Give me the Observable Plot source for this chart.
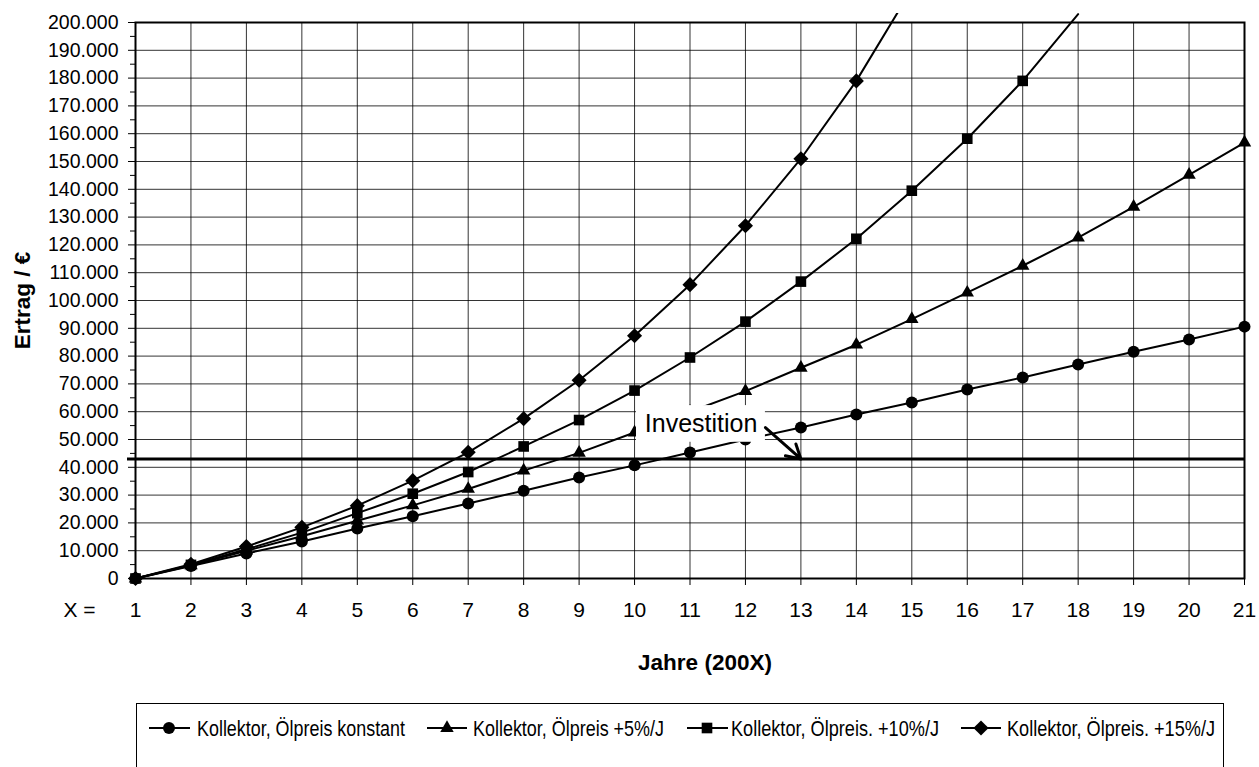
<!DOCTYPE html>
<html><head><meta charset="utf-8">
<script src="https://cdn.jsdelivr.net/npm/d3@7"></script>
<script src="https://cdn.jsdelivr.net/npm/@observablehq/plot@0.6"></script>
<style>
html,body{margin:0;padding:0;background:#fff;overflow:hidden;}
#wrap{position:relative;width:1259px;height:767px;overflow:hidden;}
#chart{position:absolute;left:0;top:0;}
#chart svg{overflow:hidden;}
#topmask{position:absolute;left:0;top:0;width:1259px;height:13px;background:#fff;}
#legend{position:absolute;left:0;top:0;}
</style></head><body>
<div id="wrap"><div id="chart"></div><div id="topmask"></div><svg id="legend" width="1259" height="767"></svg></div>
<script>
// ---- data ----
const years = [1,2,3,4,5,6,7,8,9,10,11,12,13,14,15,16,17,18,19,20,21];
const seriesNames = ["Kollektor, Ölpreis konstant", "Kollektor, Ölpreis +5%/J", "Kollektor, Ölpreis. +10%/J", "Kollektor, Ölpreis. +15%/J"];
const konstant = [0, 4500, 9000, 13300, 18000, 22400, 27000, 31600, 36300, 40700, 45300, 50000, 54300, 59000, 63300, 68000, 72300, 77000, 81600, 86000, 90600];
const plus5    = [0, 4700, 10000, 15200, 20800, 26300, 32200, 38800, 45200, 52500, 60000, 67400, 75800, 84100, 93300, 102800, 112500, 122600, 133700, 145200, 156800];
const plus10   = [0, 4900, 10500, 16500, 23500, 30500, 38300, 47500, 57000, 67600, 79500, 92400, 106800, 122200, 139500, 158200, 179000, 203000];
const plus15   = [0, 5100, 11500, 18400, 26200, 35200, 45400, 57500, 71300, 87300, 105700, 126900, 151000, 179000, 212000];
const seriesValues = [konstant, plus5, plus10, plus15];
const symbols = ["circle", "triangle", "square", "diamond2"];
const symbolR = [6, 5, 6, 6.8];
const yMajorTicks = [0,10000,20000,30000,40000,50000,60000,70000,80000,90000,100000,110000,120000,130000,140000,150000,160000,170000,180000,190000,200000];
const yMinorTicks = [5000,15000,25000,35000,45000,55000,65000,75000,85000,95000,105000,115000,125000,135000,145000,155000,165000,175000,185000,195000];
const yMax = 200000;
const investition = 43000;
const annotation = [{label: "Investition", x: 11.2, y: 55600, x1: 10.035, x2: 12.36, y1: 49000, y2: 62200}];
const arrowSpec = [{x1: 12.36, y1: 54300, x2: 13, y2: investition}];

// ---- table ----
const rows = [];
seriesValues.forEach((vals, i) => vals.forEach((v, j) => rows.push({series: seriesNames[i], year: years[j], value: v})));

const fmt = d3.formatLocale({decimal: ",", thousands: ".", grouping: [3], currency: ["", " €"]}).format(",");

const marks = [
  Plot.gridY(yMajorTicks, {stroke: "#000", strokeOpacity: 0.8, strokeWidth: 1}),
  Plot.gridX(years, {stroke: "#000", strokeOpacity: 0.8, strokeWidth: 1}),
  Plot.line(rows, {x: "year", y: "value", z: "series", stroke: "black", strokeWidth: 2})
];
seriesNames.forEach((name, i) => {
  marks.push(Plot.dot(rows.filter(d => d.series === name && d.value <= yMax),
    {x: "year", y: "value", symbol: () => symbols[i], r: symbolR[i], fill: "black", stroke: "none"}));
});
marks.push(
  Plot.ruleY([investition], {stroke: "black", strokeWidth: 3, insetLeft: -8}),
  Plot.rect(annotation, {x1: "x1", x2: "x2", y1: "y1", y2: "y2", fill: "white"}),
  Plot.text(annotation, {x: "x", y: "y", text: "label", fontSize: 25, lineAnchor: "middle", fill: "black"}),
  Plot.arrow(arrowSpec, {x1: "x1", y1: "y1", x2: "x2", y2: "y2", stroke: "black", strokeWidth: 3, headLength: 13}),
  Plot.axisY(yMinorTicks, {tickSize: 5, tickFormat: () => "", label: null}),
  Plot.axisY(yMajorTicks, {tickSize: 7, tickPadding: 10, tickFormat: fmt, fontSize: 19.5, label: null}),
  Plot.axisX(years, {tickSize: 7, tickPadding: 17, fontSize: 21, label: null, tickFormat: d => String(d)}),
  Plot.frame({stroke: "black", strokeWidth: 2}),
  Plot.text(["X ="], {text: d => d, frameAnchor: "bottom-left", dx: -40, dy: 32, textAnchor: "end", lineAnchor: "middle", fontSize: 21}),
  Plot.text(["Ertrag / €"], {text: d => d, frameAnchor: "left", dx: -113, rotate: -90, textAnchor: "middle", fontWeight: "bold", fontSize: 22.5, lineAnchor: "middle"}),
  Plot.text(["Jahre (200X)"], {text: d => d, frameAnchor: "bottom", dx: 15, dy: 84, textAnchor: "middle", fontWeight: "bold", fontSize: 22.5, lineAnchor: "middle"})
);

const chart = Plot.plot({
  width: 1259, height: 693,
  marginLeft: 135, marginRight: 15, marginTop: 22, marginBottom: 115,
  x: {domain: [1, 21], label: null},
  y: {domain: [0, yMax], label: null},
  style: {fontFamily: "'Liberation Sans', Arial, sans-serif", color: "black", background: "white", overflow: "hidden"},
  marks
});
document.getElementById("chart").appendChild(chart);

// ---- legend (below the plot) ----
const lg = d3.select("#legend");
lg.append("rect").attr("x", 136.5).attr("y", 703.5).attr("width", 1087).attr("height", 100)
  .attr("fill", "white").attr("stroke", "black").attr("stroke-width", 1);
const d3sym = {circle: d3.symbolCircle, triangle: d3.symbolTriangle, square: d3.symbolSquare, diamond2: d3.symbolDiamond2};
const legendPos = [
  {l1: 149, l2: 190, m: 169, t: 197, tw: 208},
  {l1: 427, l2: 467, m: 447, t: 473, tw: 191},
  {l1: 687, l2: 728, m: 707, t: 731, tw: 208},
  {l1: 961, l2: 1001, m: 981, t: 1007, tw: 208}
];
const ly = 728;
seriesNames.forEach((name, i) => {
  const p = legendPos[i];
  lg.append("line").attr("x1", p.l1).attr("x2", p.l2).attr("y1", ly).attr("y2", ly).attr("stroke", "black").attr("stroke-width", 2);
  lg.append("path").attr("d", d3.symbol(d3sym[symbols[i]], Math.PI * symbolR[i] * symbolR[i])())
    .attr("transform", `translate(${p.m},${ly})`).attr("fill", "black");
  lg.append("text").attr("x", p.t).attr("y", ly + 7.7).attr("font-family", "'Liberation Sans', Arial, sans-serif")
    .attr("font-size", 21.5).attr("textLength", p.tw).attr("lengthAdjust", "spacingAndGlyphs").attr("fill", "black").text(name);
});
</script>
</body></html>
